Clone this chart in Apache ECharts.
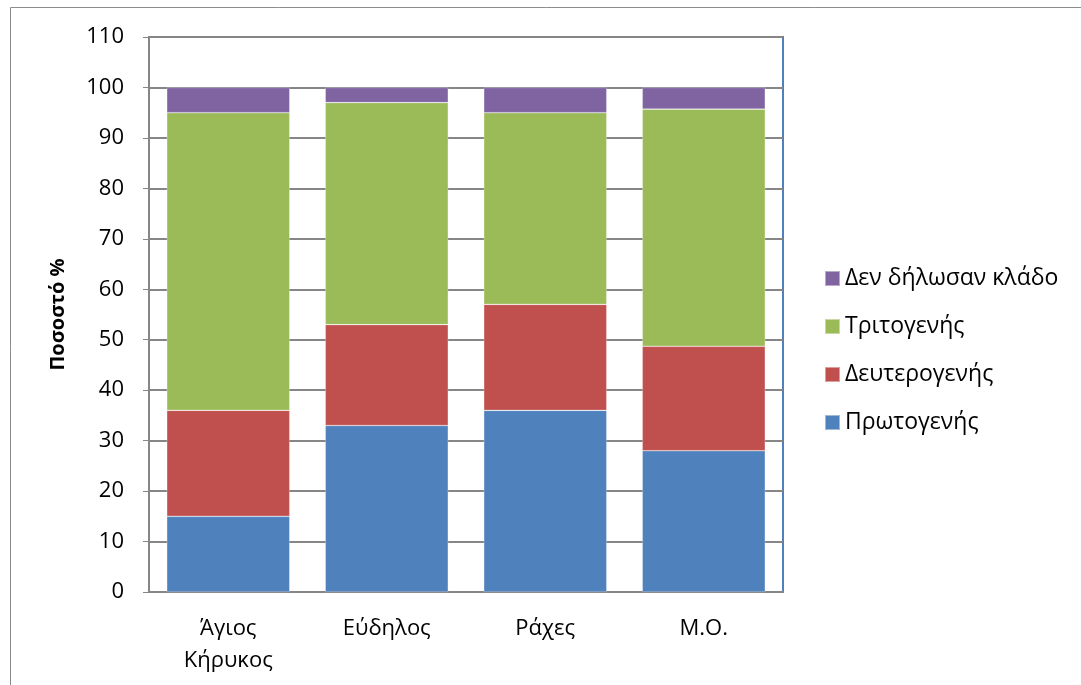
<!DOCTYPE html>
<html>
<head>
<meta charset="utf-8">
<script src="https://cdn.jsdelivr.net/npm/echarts@6/dist/echarts.min.js"></script>
<style>
  html, body { margin: 0; padding: 0; background: #fff; }
  #chart { width: 1081px; height: 685px; }
</style>
</head>
<body>
<div id="chart"></div>
<script>
// Share of workers by economic sector, per settlement, and the average (Μ.Ο.)
const categories = ['Άγιος\nΚήρυκος', 'Εύδηλος', 'Ράχες', 'Μ.Ο.'];
const primary   = [15, 33, 36, 28];
const secondary = [21, 20, 21, 20.7];
const tertiary  = [59, 44, 38, 47];
const undeclared = [5, 3, 5, 4.3];
const yTicks = { min: 0, max: 110, interval: 10 };

const FONT = '"Open Sans", "Noto Sans", sans-serif';

const chart = echarts.init(document.getElementById('chart'), null, { renderer: 'canvas' });

function barSeries(name, data, color) {
  return {
    name: name,
    type: 'bar',
    stack: 'total',
    data: data,
    barWidth: 123,
    itemStyle: { color: color, borderColor: 'rgba(255,255,255,0.45)', borderWidth: 0.6 },
    emphasis: { disabled: true }
  };
}

chart.setOption({
  animation: false,
  backgroundColor: '#ffffff',
  textStyle: { fontFamily: FONT },
  graphic: [{
    type: 'rect',
    shape: { x: 10.5, y: 7.5, width: 1200, height: 800 },
    style: { fill: null, stroke: '#8c8c8c', lineWidth: 1 },
    silent: true,
    z: -10
  }],
  grid: {
    left: 149, top: 37, right: 298, bottom: 93,
    show: true,
    borderColor: '#4f81bd',
    borderWidth: 2,
    backgroundColor: 'transparent'
  },
  legend: {
    orient: 'vertical',
    left: 819,
    top: 262,
    itemWidth: 15,
    itemHeight: 15,
    itemGap: 25,
    icon: 'rect',
    selectedMode: false,
    textStyle: { fontFamily: FONT, fontSize: 23, color: '#000' },
    data: ['Δεν δήλωσαν κλάδο', 'Τριτογενής', 'Δευτερογενής', 'Πρωτογενής']
  },
  xAxis: {
    type: 'category',
    data: categories,
    axisLine: { show: true, lineStyle: { color: '#868686', width: 2 } },
    axisTick: { show: false },
    axisLabel: {
      color: '#000',
      fontFamily: FONT,
      fontSize: 22,
      lineHeight: 32,
      margin: 21,
      interval: 0
    }
  },
  yAxis: {
    type: 'value',
    min: yTicks.min,
    max: yTicks.max,
    interval: yTicks.interval,
    name: 'Ποσοστό %',
    nameLocation: 'middle',
    nameGap: 81,
    nameTextStyle: { fontFamily: FONT, fontSize: 20, fontWeight: 'bold', color: '#000' },
    axisLine: { show: true, lineStyle: { color: '#868686', width: 2 } },
    axisTick: { show: true, length: 6, lineStyle: { color: '#868686', width: 1 } },
    axisLabel: { color: '#000', fontFamily: FONT, fontSize: 22, margin: 25 },
    splitLine: { show: true, lineStyle: { color: '#868686', width: 2 } }
  },
  series: [
    barSeries('Πρωτογενής', primary, '#4f81bd'),
    barSeries('Δευτερογενής', secondary, '#c0504d'),
    barSeries('Τριτογενής', tertiary, '#9bbb59'),
    barSeries('Δεν δήλωσαν κλάδο', undeclared, '#8064a2')
  ]
});
</script>
</body>
</html>
